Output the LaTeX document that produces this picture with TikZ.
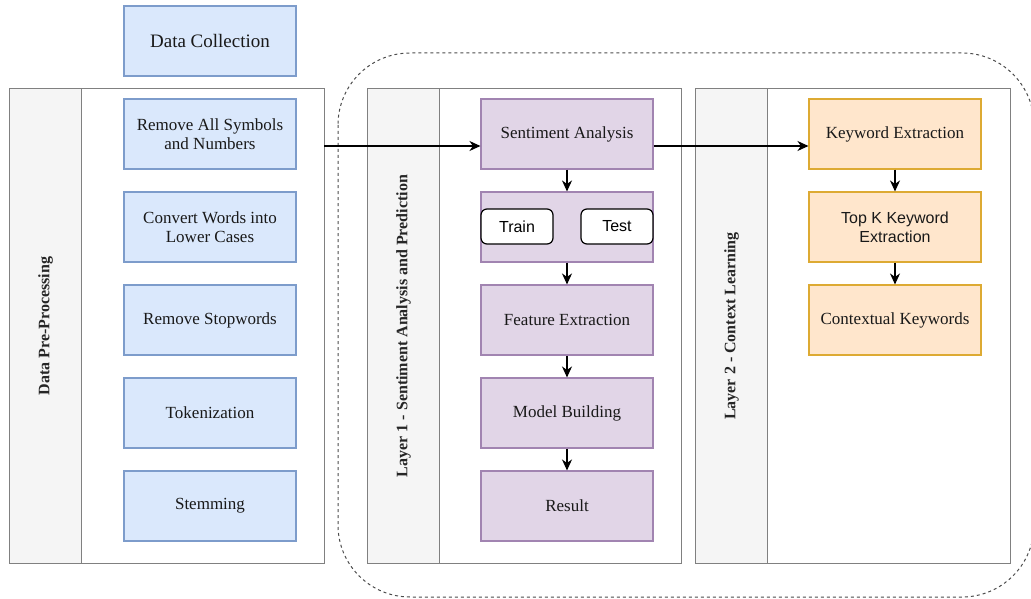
\documentclass[tikz,border=0pt]{standalone}
\usepackage{fontspec}
\setmainfont{Liberation Serif}
\newfontfamily\helv{Liberation Sans}
\usetikzlibrary{arrows.meta}
\definecolor{bfill}{HTML}{DAE8FC}\definecolor{bdraw}{HTML}{7D9CCB}
\definecolor{pfill}{HTML}{E1D5E7}\definecolor{pdraw}{HTML}{A184B1}
\definecolor{ofill}{HTML}{FFE6CC}\definecolor{odraw}{HTML}{DDAA33}
\definecolor{lanegray}{HTML}{808080}\definecolor{headfill}{HTML}{F5F5F5}
\begin{document}
\begin{tikzpicture}[x=1pt,y=-1pt,
  txt/.style={font=\fontsize{17}{19}\selectfont, text=black!90, align=center},
  box/.style={txt, rectangle, minimum width=172pt, minimum height=70pt, inner sep=2pt, line width=1.1pt},
  bluebox/.style={box, fill=bfill, draw=bdraw},
  purplebox/.style={box, fill=pfill, draw=pdraw},
  orangebox/.style={box, fill=ofill, draw=odraw},
  lanebody/.style={rectangle, draw=lanegray, line width=1.1pt, fill=white, anchor=north west, minimum height=475pt, inner sep=0pt},
  lanehead/.style={rectangle, draw=lanegray, line width=1.1pt, fill=headfill, anchor=north west, minimum width=72pt, minimum height=475pt, inner sep=0pt},
  headtext/.style={font=\fontsize{16}{18}\selectfont\bfseries, text=black!85, rotate=90},
  pill/.style={rectangle, rounded corners=6pt, draw=black, line width=1.2pt, fill=white, minimum width=72pt, minimum height=35pt, font=\helv\fontsize{16}{18}\selectfont},
  arr/.style={-{Stealth[length=11pt,width=10pt,inset=3.5pt]}, line width=1.2pt, black}
]
\useasboundingbox (0,0) rectangle (1031,599);
% dashed group
\draw[dashed, dash pattern=on 3pt off 3pt, line width=1pt, black!70, rounded corners=72pt] (338,53) rectangle (1034,597);

% lanes
\node[lanebody, minimum width=315pt] (lane0) at (9,88) {};
\node[lanehead] (head0) at (9,88) {};
\node[headtext] (ht0) at (head0.center) {Data Pre-Processing};

\node[lanebody, minimum width=314pt] (lane1) at (367,88) {};
\node[lanehead] (head1) at (367,88) {};
\node[headtext] (ht1) at (head1.center) {Layer 1 - Sentiment Analysis and Prediction};

\node[lanebody, minimum width=315pt] (lane2) at (695,88) {};
\node[lanehead] (head2) at (695,88) {};
\node[headtext] (ht2) at (head2.center) {Layer 2 - Context Learning};

% blue
\node[bluebox, font=\fontsize{19}{22}\selectfont] (dc) at (210,41) {Data Collection};
\node[bluebox] (b1) at (210,134) {Remove All Symbols\\and Numbers};
\node[bluebox] (b2) at (210,227) {Convert Words into\\Lower Cases};
\node[bluebox] (b3) at (210,320) {Remove Stopwords};
\node[bluebox] (b4) at (210,413) {Tokenization};
\node[bluebox] (b5) at (210,506) {Stemming};

% purple
\node[purplebox] (p1) at (567,134) {Sentiment Analysis};
\node[purplebox] (p2) at (567,227) {};
\node[pill] (train) at (517,226.5) {Train};
\node[pill] (test) at (617,226.5) {Test};
\node[purplebox] (p3) at (567,320) {Feature Extraction};
\node[purplebox] (p4) at (567,413) {Model Building};
\node[purplebox] (p5) at (567,506) {Result};

% orange
\node[orangebox] (o1) at (895,134) {Keyword Extraction};
\node[orangebox, font=\helv\fontsize{16}{19}\selectfont] (o2) at (895,227) {Top K Keyword\\Extraction};
\node[orangebox] (o3) at (895,320) {Contextual Keywords};

% connectors
\coordinate (start) at (324,146);
\draw[arr] (start) -- (start -| p1.west);
\draw[arr] (p1.east |- start) -- (o1.west |- start);
\draw[arr] (p1) -- (p2);
\draw[arr] (p2) -- (p3);
\draw[arr] (p3) -- (p4);
\draw[arr] (p4) -- (p5);
\draw[arr] (o1) -- (o2);
\draw[arr] (o2) -- (o3);
\end{tikzpicture}
\end{document}
